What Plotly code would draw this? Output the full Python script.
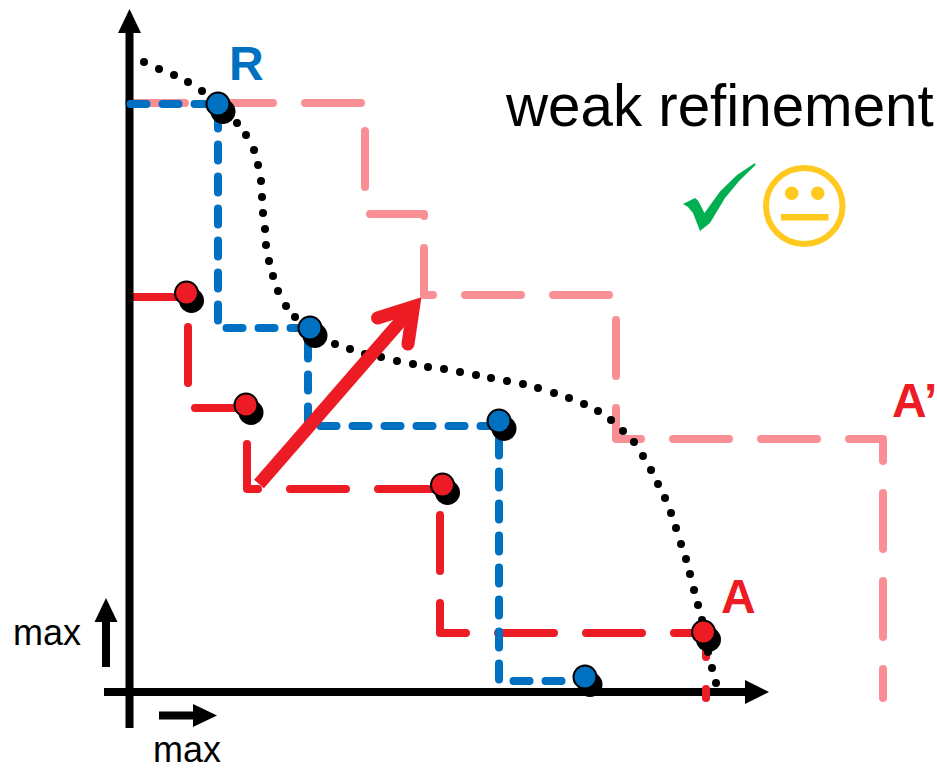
import plotly.graph_objects as go

# colours
BLUE = '#0070C0'
RED = '#ED1C24'
PINK = '#F98F94'
GREEN = '#00B050'
YELLOW = '#FFC91F'

# dominated-area staircases (canvas units, y grows downward)
blue_x = [130.5, 218, 218, 308, 308, 499, 499, 585]
blue_y = [104, 104, 328, 328, 426, 426, 681, 681]
red_x = [130, 188, 188, 247, 247, 440, 440, 706, 706]
red_y = [297, 297, 408, 408, 489, 489, 633, 633, 698]
pink_x = [129, 365, 365, 424, 424, 616, 616, 883, 883]
pink_y = [103, 103, 214, 214, 295, 295, 439, 439, 698]

# dotted front
front_x = [144, 159, 174, 188, 202, 216, 228, 237, 246, 254, 258, 261, 262, 263, 265, 266, 269, 273, 278, 286, 295,
           335, 350, 365, 381, 397, 413, 428, 444, 460, 476, 491, 507, 523, 538, 554, 569, 584, 598, 611, 623,
           634, 643, 651, 658, 665, 671, 676, 681, 686, 690, 694, 698, 702, 705, 708, 712, 716]
front_y = [62, 69, 75, 82, 91, 100, 113, 123, 135, 150, 165, 181, 197, 213, 229, 245, 261, 276, 291, 306, 317,
           344, 349, 354, 357, 361, 364, 367, 369, 372, 375, 378, 381, 384, 388, 393, 398, 404, 411, 420, 431,
           442, 456, 470, 484, 498, 513, 528, 544, 559, 574, 590, 605, 620, 636, 652, 668, 683]

# solutions
ref_x = [218, 310, 499, 585]
ref_y = [104, 328, 421, 677]
app_x = [186.5, 246, 442.5, 703.5]
app_y = [293, 405, 485, 632]

# axes and small arrows
yaxis_x = [129.5, 129.5]
yaxis_y = [728, 30]
xaxis_x = [104, 748]
xaxis_y = [692, 692]
yhead_x = [118, 129.5, 141]
yhead_y = [33, 9, 33]
xhead_x = [745, 769, 745]
xhead_y = [680, 692, 704]
up_x = [106, 106]
up_y = [667, 620]
uphead_x = [94.5, 106, 117.5]
uphead_y = [622, 598, 622]
right_x = [159, 195]
right_y = [715.5, 715.5]
righthead_x = [193, 217, 193]
righthead_y = [704, 715.5, 727]

# big refinement arrow
barb_x = [377.5, 413.5, 408]
barb_y = [318, 306.5, 344]

# tick mark
check_x = [683, 695, 698, 704.5, 720, 737, 755, 755.5, 740, 725, 710, 700, 693, 688]
check_y = [204, 198, 200.5, 213, 191.5, 175, 163, 165, 180, 198, 223, 231, 213, 207]

fig = go.Figure()


def add_line(x, y, color, width, dash='solid'):
    fig.add_trace(go.Scatter(x=x, y=y, mode='lines', line=dict(color=color, width=width, dash=dash),
                             hoverinfo='skip', showlegend=False))


def add_fill(x, y, color):
    fig.add_trace(go.Scatter(x=x, y=y, mode='lines', fill='toself', fillcolor=color,
                             line=dict(color=color, width=0), hoverinfo='skip', showlegend=False))


def add_points(x, y, color):
    fig.add_trace(go.Scatter(x=[v + 5 for v in x], y=[v + 7.5 for v in y], mode='markers',
                             marker=dict(color='black', size=25), hoverinfo='skip', showlegend=False))
    fig.add_trace(go.Scatter(x=x, y=y, mode='markers',
                             marker=dict(color=color, size=23, line=dict(color='black', width=2)),
                             hoverinfo='skip', showlegend=False))


add_line(pink_x, pink_y, PINK, 8, '56px,32px')
add_line(xaxis_x, xaxis_y, 'black', 8)
add_fill(xhead_x, xhead_y, 'black')
add_line(red_x, red_y, RED, 8, '56px,32px')
add_line(yaxis_x, yaxis_y, 'black', 8)
add_fill(yhead_x, yhead_y, 'black')
add_line(blue_x, blue_y, BLUE, 8, '16px,16px')

fig.add_trace(go.Scatter(x=front_x, y=front_y, mode='markers', marker=dict(color='black', size=8),
                         hoverinfo='skip', showlegend=False))

add_points(ref_x, ref_y, BLUE)
add_points(app_x, app_y, RED)

add_line(up_x, up_y, 'black', 8)
add_fill(uphead_x, uphead_y, 'black')
add_line(right_x, right_y, 'black', 8)
add_fill(righthead_x, righthead_y, 'black')

add_line(barb_x, barb_y, RED, 13)
add_fill(check_x, check_y, GREEN)

# arrow shaft keeps a square end, so it is a shape and not a trace
fig.add_shape(type='line', x0=259, y0=484, x1=413, y1=307, line=dict(color=RED, width=13), layer='above')

# neutral face
fig.add_shape(type='circle', x0=766, y0=168, x1=842.5, y1=244, line=dict(color=YELLOW, width=6), layer='above')
fig.add_shape(type='circle', x0=785, y0=186.5, x1=798.5, y1=200, fillcolor=YELLOW, line_width=0, layer='above')
fig.add_shape(type='circle', x0=811, y0=186.5, x1=824.5, y1=200, fillcolor=YELLOW, line_width=0, layer='above')
fig.add_shape(type='rect', x0=781, y0=214, x1=828.5, y1=220.5, fillcolor=YELLOW, line_width=0, layer='above')

FONT = 'Liberation Sans'
labels = [
    ('weak refinement', 719, 105.5, 58.3, 'black', False),
    ('max', 47, 632, 36, 'black', False),
    ('max', 187, 749.3, 36, 'black', False),
    ('R', 246, 63, 48, BLUE, True),
    ('A', 738, 596, 48, RED, True),
    ('A’', 914, 400, 48, RED, True),
]
for text, x, y, size, color, bold in labels:
    fig.add_annotation(x=x, y=y, text='<b>%s</b>' % text if bold else text, showarrow=False,
                       xanchor='center', yanchor='middle', font=dict(family=FONT, size=size, color=color))

fig.update_layout(
    width=937, height=770, margin=dict(l=0, r=0, t=0, b=0),
    paper_bgcolor='white', plot_bgcolor='white', showlegend=False,
    xaxis=dict(range=[0, 937], visible=False),
    yaxis=dict(range=[770, 0], visible=False),
)

# plotly has no option for line caps: dashes and the arrow barbs get round ends, axes stay square
post_script = """
document.body.style.margin = '0';
document.querySelectorAll('.scatterlayer .js-line').forEach(function (p) {
    if (p.style.strokeDasharray && p.style.strokeDasharray !== 'none') {
        p.style.strokeLinecap = 'round';
        p.style.strokeLinejoin = 'round';
    } else if (p.style.strokeWidth === '13px') {
        p.style.strokeLinecap = 'round';
        p.style.strokeLinejoin = 'miter';
    }
});
"""

fig.write_html("out.html", post_script=post_script, config={'displayModeBar': False})
